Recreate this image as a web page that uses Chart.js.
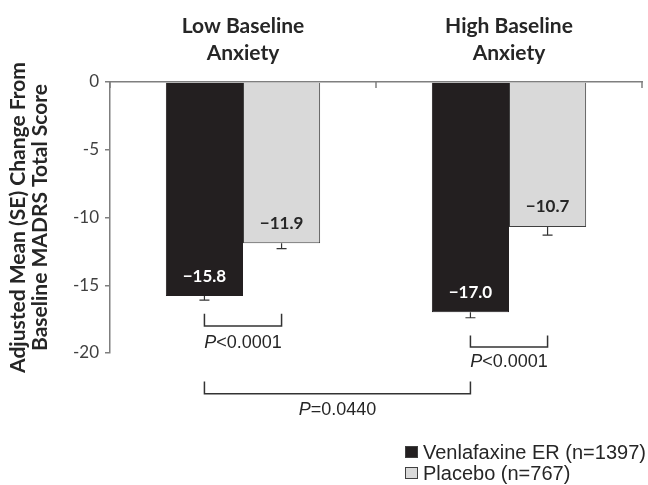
<!DOCTYPE html>
<html>
<head>
<meta charset="utf-8">
<script src="https://cdn.jsdelivr.net/npm/chart.js@4.4.1/dist/chart.umd.min.js"></script>
<style>
    html, body { margin: 0; padding: 0; background: #fff; }
    #wrap { width: 648px; height: 485px; }
</style>
</head>
<body>
<div id="wrap"><canvas id="madrsChart" width="648" height="485"></canvas></div>
<script>
// Data
const categories = [["Low Baseline", "Anxiety"], ["High Baseline", "Anxiety"]];
const venlafaxine = [-15.8, -17.0];
const placebo = [-11.9, -10.7];
const venlafaxineSE = [0.3, 0.4];
const placeboSE = [0.4, 0.6];
const seriesNames = ["Venlafaxine ER (n=1397)", "Placebo (n=767)"];
const yTicks = [0, -5, -10, -15, -20];
const pLow = "<0.0001";
const pHigh = "<0.0001";
const pBetween = "=0.0440";

const CALIBRI = "Lato, 'Open Sans', sans-serif";
const ARIAL = "'Liberation Sans', Arial, sans-serif";
const AXIS_GRAY = "#7f7f7f";

function fmt(v) {
    return "\u2212" + Math.abs(v).toFixed(1);
}

// Error bars, value labels, tick marks, brackets, legend
const extras = {
    id: "extras",
    afterDatasetsDraw(chart) {
        const ctx = chart.ctx;
        const y = chart.scales.y;
        const x = chart.scales.x;
        const area = chart.chartArea;
        const seList = [venlafaxineSE, placeboSE];

        ctx.save();

        // tick marks on category axis (pointing down)
        ctx.strokeStyle = AXIS_GRAY;
        ctx.lineWidth = 1.5;
        const mid = (x.getPixelForValue(0) + x.getPixelForValue(1)) / 2;
        [area.left, mid, area.right].forEach(px => {
            ctx.beginPath();
            ctx.moveTo(px, area.top);
            ctx.lineTo(px, area.top + 6);
            ctx.stroke();
        });

        // error bars
        ctx.strokeStyle = "#333";
        ctx.lineWidth = 1.2;
        chart.data.datasets.forEach((ds, di) => {
            const meta = chart.getDatasetMeta(di);
            meta.data.forEach((bar, i) => {
                const y0 = y.getPixelForValue(ds.data[i]);
                const y1 = y.getPixelForValue(ds.data[i] - seList[di][i]);
                ctx.beginPath();
                ctx.moveTo(bar.x, y0);
                ctx.lineTo(bar.x, y1);
                ctx.moveTo(bar.x - 5, y1);
                ctx.lineTo(bar.x + 5, y1);
                ctx.stroke();
            });
        });

        // value labels
        ctx.font = "bold 17px " + CALIBRI;
        ctx.textAlign = "center";
        ctx.textBaseline = "middle";
        chart.data.datasets.forEach((ds, di) => {
            const meta = chart.getDatasetMeta(di);
            ctx.fillStyle = di === 0 ? "#ffffff" : "#262626";
            meta.data.forEach((bar, i) => {
                ctx.fillText(fmt(ds.data[i]), bar.x, y.getPixelForValue(ds.data[i]) - 20);
            });
        });

        // significance brackets
        const v = chart.getDatasetMeta(0).data;
        const p = chart.getDatasetMeta(1).data;
        ctx.strokeStyle = "#333";
        ctx.lineWidth = 1.5;
        function bracket(x1, x2, top, bottom, label, labelY) {
            const t = y.getPixelForValue(top);
            const b = y.getPixelForValue(bottom);
            ctx.beginPath();
            ctx.moveTo(x1, t);
            ctx.lineTo(x1, b);
            ctx.lineTo(x2, b);
            ctx.lineTo(x2, t);
            ctx.stroke();
            // italic P + rest
            const ly = y.getPixelForValue(labelY);
            ctx.textBaseline = "middle";
            ctx.font = "italic 18px " + ARIAL;
            const wP = ctx.measureText("P").width;
            ctx.font = "18px " + ARIAL;
            const wR = ctx.measureText(label).width;
            const start = (x1 + x2) / 2 - (wP + wR) / 2;
            ctx.fillStyle = "#262626";
            ctx.textAlign = "left";
            ctx.font = "italic 18px " + ARIAL;
            ctx.fillText("P", start, ly);
            ctx.font = "18px " + ARIAL;
            ctx.fillText(label, start + wP, ly);
        }
        bracket(v[0].x, p[0].x, -17.1, -18.0, pLow, -19.25);
        bracket(v[1].x, p[1].x, -18.7, -19.55, pHigh, -20.7);
        bracket(v[0].x, v[1].x, -22.1, -23.0, pBetween, -24.2);

        // legend
        ctx.font = "20px " + ARIAL;
        ctx.textAlign = "left";
        ctx.textBaseline = "middle";
        const lx = 405, ly0 = 452, step = 21;
        chart.data.datasets.forEach((ds, di) => {
            const ly = ly0 + di * step;
            ctx.fillStyle = ds.backgroundColor;
            ctx.fillRect(lx, ly - 6, 13, 12);
            ctx.strokeStyle = "#404040";
            ctx.lineWidth = 1;
            ctx.strokeRect(lx + 0.5, ly - 5.5, 12, 11);
            ctx.fillStyle = "#262626";
            ctx.fillText(ds.label, lx + 18, ly + 1);
        });

        ctx.restore();
    }
};

new Chart(document.getElementById("madrsChart"), {
    type: "bar",
    data: {
        labels: categories,
        datasets: [
            {
                label: seriesNames[0],
                data: venlafaxine,
                backgroundColor: "#231f20",
                borderColor: "#231f20",
                borderWidth: 1
            },
            {
                label: seriesNames[1],
                data: placebo,
                backgroundColor: "#d9d9d9",
                borderColor: "#404040",
                borderWidth: 1
            }
        ]
    },
    options: {
        responsive: false,
        animation: false,
        devicePixelRatio: 1,
        layout: { padding: { top: 0, right: 6, bottom: 132, left: 0 } },
        plugins: {
            legend: { display: false },
            tooltip: { enabled: false }
        },
        datasets: {
            bar: { categoryPercentage: 0.58, barPercentage: 1.0 }
        },
        scales: {
            x: {
                position: "top",
                afterFit(scale) { scale.height = 82; },
                grid: { display: false },
                border: { display: true, color: AXIS_GRAY, width: 1.5 },
                ticks: {
                    color: "#262626",
                    font: { family: CALIBRI, size: 21, weight: "bold", lineHeight: 1.25 },
                    padding: 8
                }
            },
            y: {
                min: -20,
                max: 0,
                afterFit(scale) { scale.width = 110; },
                afterBuildTicks(scale) {
                    scale.ticks = yTicks.map(v => ({ value: v }));
                },
                grid: {
                    drawOnChartArea: false,
                    drawTicks: true,
                    tickLength: 5,
                    color: AXIS_GRAY,
                    lineWidth: 1.5
                },
                border: { display: true, color: AXIS_GRAY, width: 1.5 },
                ticks: {
                    color: "#404040",
                    font: { family: CALIBRI, size: 17 },
                    padding: 6,
                    callback: v => String(v)
                },
                title: {
                    display: true,
                    text: ["Adjusted Mean (SE) Change From", "Baseline MADRS Total Score"],
                    color: "#262626",
                    font: { family: CALIBRI, size: 21, weight: "bold", lineHeight: 1.05 },
                    padding: { top: 7, bottom: 8 }
                }
            }
        }
    },
    plugins: [extras]
});
</script>
</body>
</html>
